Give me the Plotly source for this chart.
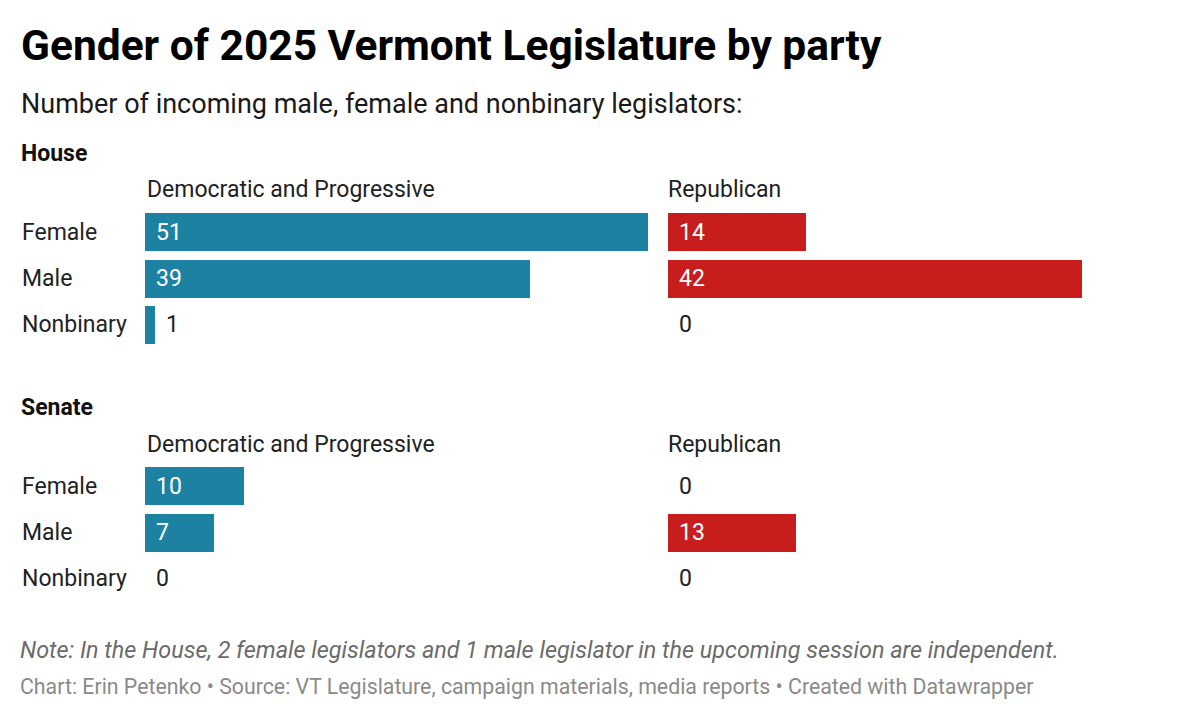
import plotly.graph_objs as go

genders = ['Female', 'Male', 'Nonbinary']
house_dem = [51, 39, 1]
house_rep = [14, 42, 0]
senate_dem = [10, 7, 0]
senate_rep = [0, 13, 0]

blue = '#1d81a2'
red = '#c71e1d'
dark = '#222222'
font = 'Roboto'

W, H = 1200, 718
OFF = 8  # page body margin
px = lambda v: (v - OFF) / W
py_ = lambda v: 1 - (v - OFF) / H

# panels: (values, color, xaxis, yaxis)
panels = [
    (house_dem, blue, 'x', 'y'),
    (house_rep, red, 'x2', 'y'),
    (senate_dem, blue, 'x', 'y2'),
    (senate_rep, red, 'x2', 'y2'),
]

fig = go.Figure()
annotations = []
for vals, color, xa, ya in panels:
    fig.add_trace(go.Bar(
        x=vals, y=genders, orientation='h',
        xaxis=xa, yaxis=ya,
        marker=dict(color=color, line=dict(width=0)),
        width=0.82, hoverinfo='skip', showlegend=False,
    ))
    for g, v in zip(genders, vals):
        inside = v >= 5
        annotations.append(dict(
            x=0 if inside else v, y=g, xref=xa, yref=ya,
            text=str(v), showarrow=False, xanchor='left', xshift=9,
            font=dict(family=font, size=23, color='white' if inside else dark),
        ))

# row labels
for ya in ['y', 'y2']:
    for g in genders:
        annotations.append(dict(
            x=px(20), y=g, xref='paper', yref=ya, text=g, showarrow=False,
            xanchor='left', font=dict(family=font, size=23, color=dark),
        ))

def txt(x, y, s, size, color=dark):
    annotations.append(dict(
        x=px(x), y=py_(y), xref='paper', yref='paper', text=s, showarrow=False,
        xanchor='left', yanchor='middle', font=dict(family=font, size=size, color=color)))

txt(19, 45, '<b>Gender of 2025 Vermont Legislature by party</b>', 42.5, '#000000')
txt(19, 104, 'Number of incoming male, female and nonbinary legislators:', 27, '#1a1a1a')
txt(19, 153, '<b>House</b>', 23, '#111111')
txt(145, 190, 'Democratic and Progressive', 23)
txt(666, 190, 'Republican', 23)
txt(19, 407, '<b>Senate</b>', 23, '#111111')
txt(145, 444, 'Democratic and Progressive', 23)
txt(666, 444, 'Republican', 23)
txt(18, 650, '<i>Note: In the House, 2 female legislators and 1 male legislator in the upcoming session are independent.</i>', 23.4, '#6b6b6b')
txt(18, 686, 'Chart: Erin Petenko • Source: VT Legislature, campaign materials, media reports • Created with Datawrapper', 21.3, '#8a8a8a')

hidden = dict(showgrid=False, zeroline=False, showticklabels=False, showline=False, ticks='', fixedrange=True)

layout = go.Layout(
    width=W, height=H,
    margin=dict(l=0, r=0, t=0, b=0),
    paper_bgcolor='white', plot_bgcolor='white',
    xaxis=dict(domain=[px(145), px(648)], range=[0, 51], **hidden),
    xaxis2=dict(domain=[px(668), px(1171)], range=[0, 51], **hidden),
    yaxis=dict(domain=[py_(348), py_(209)], range=[2.5, -0.5], type='category', **hidden),
    yaxis2=dict(domain=[py_(602), py_(463)], range=[2.5, -0.5], type='category', **hidden),
    annotations=annotations,
    bargap=0,
)
fig.update_layout(layout)
fig.write_html('out.html')
